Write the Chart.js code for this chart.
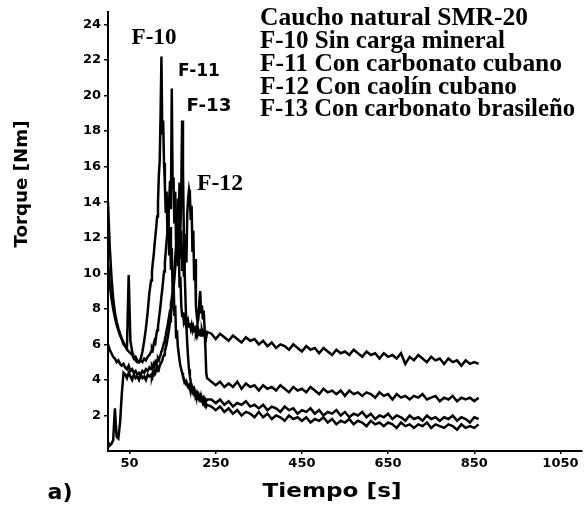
<!DOCTYPE html>
<html>
<head>
<meta charset="utf-8">
<script src="https://cdn.jsdelivr.net/npm/chart.js@4.4.0/dist/chart.umd.min.js"></script>
<style>
  html, body { margin: 0; padding: 0; background: #fff; }
  #wrap { width: 586px; height: 510px; }
</style>
</head>
<body>
<div id="wrap"><canvas id="torque-chart" width="586" height="510"></canvas></div>
<script>
// Tiempo [s], comun a las cuatro mezclas
const tiempo = [
  0, 4, 8, 12, 16, 20, 24, 28, 32, 36, 40, 44, 48, 52, 56, 60, 64, 68, 72, 76, 80, 84, 88, 92, 96,
  100, 102, 104, 106, 108, 110, 112, 114, 116, 118,
  120, 122, 124, 126, 128, 130, 132, 134, 136, 138,
  140, 142, 144, 146, 148, 150, 152, 154, 156, 158,
  160, 162, 164, 166, 168, 170, 172, 174, 176, 178,
  180, 182, 184, 186, 188, 190, 192, 194, 196, 198,
  200, 202, 204, 206, 208, 210, 212, 214, 216, 218,
  220, 222, 224, 226, 228, 230,
  240, 250, 260, 270, 280, 290, 300, 310, 320, 330,
  340, 350, 360, 370, 380, 390, 400, 410, 420, 430,
  440, 450, 460, 470, 480, 490, 500, 510, 520, 530,
  540, 550, 560, 570, 580, 590, 600, 610, 620, 630,
  640, 650, 660, 670, 680, 690, 700, 710, 720, 730,
  740, 750, 760, 770, 780, 790, 800, 810, 820, 830,
  840, 850, 860
];

// Torque [Nm] - F-10 Sin carga mineral
const f10 = [
  14.0, 11.5, 9.8, 8.6, 7.8, 7.3, 6.9, 6.6, 6.3, 6.1, 5.9, 5.8, 9.9, 6.2, 5.6, 5.3, 5.1, 5.0, 5.0, 5.2, 5.6, 6.2, 6.9, 7.8, 8.9,
  9.6, 10.1, 10.6, 11.0, 11.6, 12.1, 12.6, 13.2, 14.0, 15.5,
  16.3, 18.9, 22.2, 17.8, 18.6, 16.2, 15.0, 13.4, 14.6, 12.2,
  13.8, 11.0, 12.6, 10.2, 11.4, 9.0, 9.8, 7.6, 8.2, 6.4,
  6.8, 5.9, 5.5, 5.1, 4.8, 4.6, 4.4, 4.2, 4.1, 3.9,
  3.8, 3.9, 3.7, 3.6, 3.7, 3.5, 3.4, 3.5, 3.3, 3.4,
  3.2, 3.3, 3.1, 3.2, 3.0, 3.1, 2.9, 3.0, 2.8, 2.9,
  2.7, 2.8, 2.6, 2.7, 2.5, 2.6,
  2.5, 2.3, 2.5, 2.2, 2.4, 2.1, 2.3, 2.0, 2.2, 2.1,
  1.9, 2.2, 1.9, 2.1, 1.8, 2.0, 1.9, 1.7, 2.0, 1.8,
  1.9, 1.7, 1.9, 1.6, 1.8, 1.7, 1.9, 1.6, 1.8, 1.5,
  1.7, 1.6, 1.8, 1.5, 1.7, 1.6, 1.4, 1.7, 1.5, 1.6,
  1.4, 1.6, 1.5, 1.3, 1.6, 1.4, 1.5, 1.3, 1.5, 1.4,
  1.6, 1.3, 1.5, 1.4, 1.3, 1.5, 1.4, 1.2, 1.5, 1.3,
  1.4, 1.3, 1.5
];

// F-11 Con carbonato cubano
const f11 = [
  10.6, 9.4, 8.6, 8.0, 7.5, 7.1, 6.8, 6.5, 6.3, 6.0, 5.9, 5.7, 5.6, 5.5, 5.4, 5.2, 5.3, 5.1, 5.0, 5.1, 5.0, 5.2, 5.1, 5.3, 5.4,
  5.6, 5.8, 5.7, 6.0, 6.2, 6.1, 6.5, 6.8, 7.0, 7.4,
  7.8, 8.2, 8.7, 9.1, 9.6, 10.1, 10.6, 11.2, 11.8, 12.3,
  13.0, 14.1, 15.2, 13.6, 20.4, 14.8, 15.4, 12.8, 14.6, 11.6,
  13.2, 10.4, 11.8, 9.2, 9.8, 8.2, 7.6, 7.8, 7.3, 7.5,
  7.2, 7.4, 7.1, 7.3, 7.0, 7.2, 6.9, 7.1, 6.8, 7.0,
  6.8, 6.9, 6.7, 6.9, 6.6, 6.8, 6.6, 6.7, 6.5, 6.8,
  6.6, 6.7, 6.5, 6.6, 6.4, 6.7,
  6.6, 6.3, 6.6, 6.4, 6.2, 6.5, 6.3, 6.1, 6.4, 6.2,
  6.3, 6.0, 6.2, 5.9, 6.1, 5.8, 6.0, 5.9, 5.7, 6.0,
  5.8, 5.6, 5.9, 5.7, 5.8, 5.5, 5.8, 5.6, 5.4, 5.7,
  5.5, 5.6, 5.4, 5.7, 5.5, 5.3, 5.6, 5.4, 5.5, 5.2,
  5.5, 5.3, 5.4, 5.2, 5.5, 4.9, 5.3, 5.1, 5.4, 5.2,
  5.0, 5.3, 5.1, 5.2, 4.9, 5.2, 5.0, 5.1, 4.8, 5.1,
  4.9, 5.0, 4.9
];

// F-12 Con caolin cubano
const f12 = [
  0.5, 0.3, 0.4, 0.6, 2.4, 0.8, 0.7, 1.6, 3.2, 4.4, 4.3, 4.1, 4.4, 4.2, 4.0, 4.3, 4.1, 4.2, 4.0, 4.3, 4.1, 4.2, 4.0, 4.3, 4.2,
  4.3, 4.2, 4.4, 4.3, 4.5, 4.4, 4.6, 4.5, 4.7, 4.6,
  4.8, 4.9, 5.0, 5.1, 5.3, 5.4, 5.6, 5.8, 6.0, 6.3,
  6.6, 6.9, 7.3, 7.7, 8.1, 8.6, 9.1, 9.7, 10.3, 11.0,
  11.8, 12.6, 11.4, 13.2, 10.8, 12.4, 10.2, 11.6, 9.8, 11.0,
  12.2, 10.6, 13.4, 14.2, 14.7, 14.4, 13.0, 13.8, 11.2, 12.4,
  9.6, 10.8, 8.2, 7.6, 7.2, 7.5, 8.4, 9.0, 7.8, 8.2,
  7.4, 7.9, 7.0, 5.8, 4.4, 4.1,
  3.9, 3.7, 3.9, 3.6, 3.8, 3.6, 3.9, 3.5, 3.8, 3.6,
  3.7, 3.4, 3.7, 3.5, 3.6, 3.4, 3.7, 3.5, 3.3, 3.6,
  3.4, 3.5, 3.3, 3.6, 3.4, 3.2, 3.5, 3.3, 3.4, 3.2,
  3.4, 3.1, 3.4, 3.2, 3.3, 3.1, 3.3, 3.2, 3.0, 3.3,
  3.1, 3.2, 2.9, 3.2, 3.0, 3.1, 2.9, 3.1, 3.0, 3.2,
  2.9, 3.0, 3.1, 2.8, 3.0, 2.9, 3.1, 2.8, 3.0, 2.9,
  3.0, 2.8, 3.0
];

// F-13 Con carbonato brasileno
const f13 = [
  6.0, 5.7, 5.5, 5.3, 5.2, 5.0, 5.1, 4.9, 4.8, 4.9, 4.7, 4.6, 4.8, 4.5, 4.6, 4.4, 4.5, 4.3, 4.4, 4.3, 4.5, 4.4, 4.6, 4.5, 4.7,
  4.6, 4.8, 4.7, 4.9, 4.8, 5.0, 4.9, 5.1, 5.2, 5.1,
  5.3, 5.4, 5.6, 5.7, 5.9, 6.1, 6.3, 6.5, 6.8, 7.0,
  7.3, 7.6, 7.9, 8.3, 8.6, 9.0, 9.5, 10.1, 10.8, 11.6,
  12.8, 14.2, 13.0, 15.1, 12.4, 14.6, 18.6, 15.8, 12.2, 10.0,
  8.4, 7.0, 6.0, 5.2, 4.6, 4.2, 3.9, 3.7, 3.6, 3.4,
  3.5, 3.3, 3.2, 3.3, 3.1, 3.2, 3.0, 3.1, 2.9, 3.0,
  2.9, 3.0, 2.8, 2.9, 2.8, 2.9,
  2.9, 2.7, 2.9, 2.6, 2.8, 2.5, 2.7, 2.6, 2.8, 2.5,
  2.6, 2.4, 2.6, 2.3, 2.5, 2.4, 2.2, 2.5, 2.3, 2.4,
  2.1, 2.3, 2.2, 2.4, 2.1, 2.3, 2.0, 2.2, 2.1, 2.3,
  2.0, 2.2, 1.9, 2.1, 2.0, 2.2, 1.9, 2.1, 1.8, 2.0,
  1.9, 2.1, 1.8, 2.0, 1.9, 1.7, 2.0, 1.8, 1.9, 1.7,
  2.0, 1.8, 1.9, 1.7, 1.9, 1.8, 2.0, 1.7, 1.9, 1.8,
  1.6, 1.9, 1.8
];

const xTicks = [50, 250, 450, 650, 850, 1050];
const yTicks = [2, 4, 6, 8, 10, 12, 14, 16, 18, 20, 22, 24];

const leyenda = [
  'Caucho natural SMR-20',
  'F-10 Sin carga mineral',
  'F-11 Con carbonato cubano',
  'F-12 Con caolín cubano',
  'F-13 Con carbonato brasileño'
];

const series = [
  { label: 'F-10', values: f10 },
  { label: 'F-11', values: f11 },
  { label: 'F-12', values: f12 },
  { label: 'F-13', values: f13 }
];

// texto con ancho forzado (la figura original esta estirada en horizontal)
function drawText(ctx, text, x, y, font, opts = {}) {
  ctx.save();
  ctx.font = font;
  ctx.fillStyle = '#000';
  ctx.textBaseline = 'middle';
  ctx.textAlign = opts.align || 'center';
  const w = ctx.measureText(text).width;
  const sx = opts.width ? opts.width / w : 1;
  ctx.translate(x, y);
  if (opts.rotate) ctx.rotate(opts.rotate);
  ctx.scale(sx, 1);
  ctx.fillText(text, 0, 0);
  ctx.restore();
}

const SERIF = '"Liberation Serif", "DejaVu Serif", serif';
const SANS = '"DejaVu Sans", "Liberation Sans", sans-serif';

const textos = {
  id: 'textos',
  afterDraw(chart) {
    const ctx = chart.ctx;
    // titulos de ejes
    drawText(ctx, 'Torque [Nm]', 22, 184, 'bold 18px ' + SANS, { rotate: -Math.PI / 2, width: 127 });
    drawText(ctx, 'Tiempo [s]', 332, 492, 'bold 19px ' + SANS, { width: 139 });
    drawText(ctx, 'a)', 60, 494, 'bold 21px ' + SANS, { width: 25 });

    // leyenda en texto
    const anchos = [268, 245, 302, 257, 315];
    const filas = [18.5, 41.5, 65, 87.5, 110];
    leyenda.forEach((t, i) => {
      drawText(ctx, t, 260, filas[i], 'bold 25px ' + SERIF, { align: 'left', width: anchos[i] });
    });

    // etiquetas de los picos
    drawText(ctx, 'F-10', 154, 38, 'bold 23px ' + SERIF, { width: 45 });
    drawText(ctx, 'F-11', 199, 72, 'bold 17px ' + SANS, { width: 42 });
    drawText(ctx, 'F-13', 209, 107, 'bold 17px ' + SANS, { width: 45 });
    drawText(ctx, 'F-12', 220, 184, 'bold 23px ' + SERIF, { width: 46 });
  }
};

const ctx = document.getElementById('torque-chart').getContext('2d');

new Chart(ctx, {
  type: 'line',
  data: {
    datasets: series.map(s => ({
      label: s.label,
      data: tiempo.map((t, i) => ({ x: t, y: s.values[i] })),
      borderColor: '#000',
      borderWidth: 2.5,
      pointRadius: 0,
      tension: 0,
      fill: false
    }))
  },
  options: {
    responsive: false,
    animation: false,
    layout: { padding: { left: 68, right: 4, top: 12, bottom: 29 } },
    plugins: {
      legend: { display: false },
      tooltip: { enabled: false }
    },
    scales: {
      x: {
        type: 'linear',
        min: 0,
        max: 1100,
        afterBuildTicks: scale => { scale.ticks = xTicks.map(v => ({ value: v })); },
        afterFit: scale => { scale.height = 30; },
        grid: { drawOnChartArea: false, tickLength: 3, color: '#000', lineWidth: 1.5 },
        border: { color: '#000', width: 2 },
        ticks: {
          color: '#000',
          padding: 2,
          maxRotation: 0,
          callback: v => String(v),
          font: { family: SANS, size: 13, weight: 'bold' }
        }
      },
      y: {
        min: 0,
        max: 24.7,
        afterBuildTicks: scale => { scale.ticks = yTicks.map(v => ({ value: v })); },
        afterFit: scale => { scale.width = 40; },
        grid: { drawOnChartArea: false, tickLength: 4, color: '#000', lineWidth: 1.5 },
        border: { color: '#000', width: 2 },
        ticks: {
          color: '#000',
          padding: 3,
          callback: v => String(v),
          font: { family: SANS, size: 13, weight: 'bold' }
        }
      }
    }
  },
  plugins: [textos]
});
</script>
</body>
</html>
